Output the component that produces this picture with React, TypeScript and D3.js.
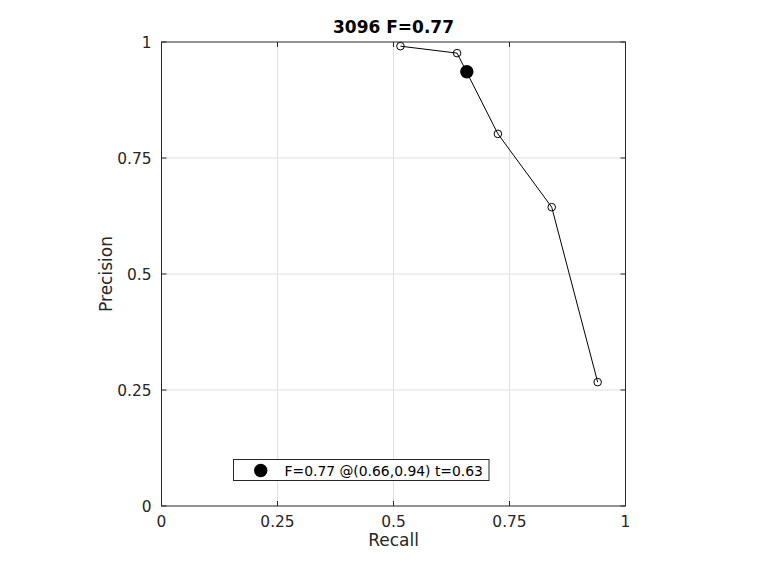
import React from "react";
import * as d3 from "d3";

const recall = [0.515, 0.637, 0.725, 0.841, 0.94];
const precision = [0.991, 0.976, 0.802, 0.644, 0.267];
const bestPoint = { r: 0.658, p: 0.936 };
const tickValues = [0, 0.25, 0.5, 0.75, 1];
const tickLabels = ["0", "0.25", "0.5", "0.75", "1"];
const titleText = "3096 F=0.77";
const legendText = "F=0.77 @(0.66,0.94) t=0.63";

export default function App() {
  const W = 760, H = 570;
  const L = 161.5, R = 625.5, T = 42, B = 506;
  const x = d3.scaleLinear().domain([0, 1]).range([L, R]);
  const y = d3.scaleLinear().domain([0, 1]).range([B, T]);
  const pts = recall.map((r, i) => [r, precision[i]] as [number, number]);
  const line = d3.line<[number, number]>().x(d => x(d[0])).y(d => y(d[1]));
  const font = "DejaVu Sans, sans-serif";
  const axisColor = "#262626";
  return (
    <svg width={W} height={H} style={{ position: "absolute", left: 0, top: 0, background: "#fff" }} fontFamily={font}>
      <rect x={0} y={0} width={W} height={H} fill="#fff" />
      <rect x={L} y={T} width={R - L} height={B - T} fill="#fff" />
      {tickValues.map((t, i) => (
        <g key={"g" + i}>
          {i > 0 && i < tickValues.length - 1 && (
            <>
              <line x1={x(t)} x2={x(t)} y1={T} y2={B} stroke="#dfdfdf" strokeWidth={1} />
              <line x1={L} x2={R} y1={y(t)} y2={y(t)} stroke="#dfdfdf" strokeWidth={1} />
            </>
          )}
        </g>
      ))}
      {/* ticks */}
      {tickValues.map((t, i) => (
        <g key={"t" + i} stroke={axisColor} strokeWidth={1}>
          <line x1={x(t)} x2={x(t)} y1={B} y2={B - 5} />
          <line x1={x(t)} x2={x(t)} y1={T} y2={T + 5} />
          <line x1={L} x2={L + 5} y1={y(t)} y2={y(t)} />
          <line x1={R} x2={R - 5} y1={y(t)} y2={y(t)} />
        </g>
      ))}
      <rect x={L} y={T} width={R - L} height={B - T} fill="none" stroke={axisColor} strokeWidth={1} />
      {tickValues.map((t, i) => (
        <text key={"xl" + i} x={x(t)} y={527} textAnchor="middle" fontSize={15.4} fill={axisColor}>
          {tickLabels[i]}
        </text>
      ))}
      {tickValues.map((t, i) => (
        <text key={"yl" + i} x={L - 10} y={y(t) + 5.5} textAnchor="end" fontSize={15.4} fill={axisColor}>
          {tickLabels[i]}
        </text>
      ))}
      <text x={(L + R) / 2} y={546} textAnchor="middle" fontSize={17} fill={axisColor}>Recall</text>
      <text transform={`translate(112,${(T + B) / 2}) rotate(-90)`} textAnchor="middle" fontSize={17} fill={axisColor}>Precision</text>
      <text x={(L + R) / 2} y={33} textAnchor="middle" fontSize={17} fontWeight="bold" fill="#000">{titleText}</text>
      <path d={line(pts) || ""} fill="none" stroke="#000" strokeWidth={1} />
      {pts.map((d, i) => (
        <circle key={"c" + i} cx={x(d[0])} cy={y(d[1])} r={3.8} fill="none" stroke="#000" strokeWidth={1} />
      ))}
      <circle cx={x(bestPoint.r)} cy={y(bestPoint.p)} r={6.7} fill="#000" />
      {/* legend */}
      <rect x={233.5} y={459.5} width={255.5} height={21} fill="#fff" stroke="#262626" strokeWidth={1} />
      <circle cx={260.7} cy={470.5} r={6.7} fill="#000" />
      <text x={284.5} y={475.5} fontSize={13.9} fill="#000">{legendText}</text>
    </svg>
  );
}
